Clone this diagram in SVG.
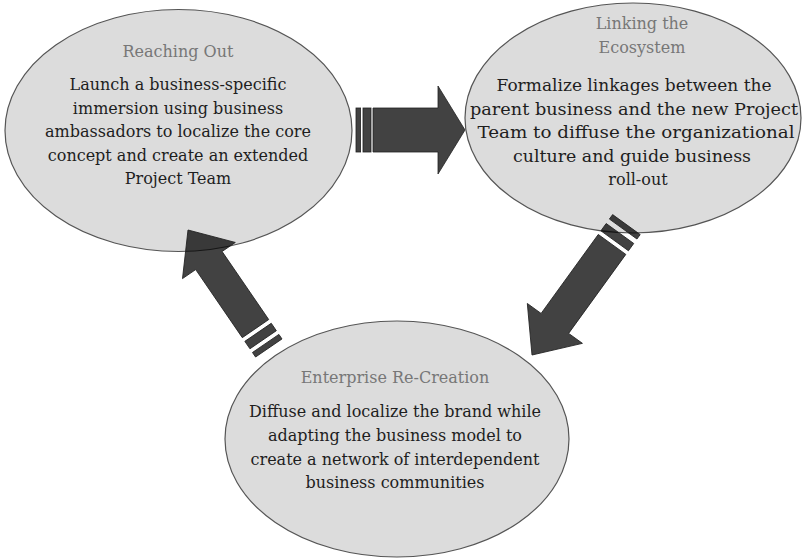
<svg xmlns="http://www.w3.org/2000/svg" width="802" height="560" viewBox="0 0 802 560">
  <style>
    .stage { fill: #dcdcdc; stroke: #555555; stroke-width: 1.2; }
    .title { font-family: "DejaVu Serif", "Liberation Serif", serif; font-size: 16px; fill: #777777; text-anchor: middle; }
    .body { font-family: "DejaVu Serif", "Liberation Serif", serif; font-size: 16px; fill: #1e1e1e; text-anchor: middle; }
    .arrow { fill: #000000; fill-opacity: 0.74; stroke: #222222; stroke-width: 0.8; }
  </style>
  <rect width="802" height="560" fill="#ffffff"/>

  <g id="reaching-out">
    <ellipse class="stage" cx="178.5" cy="130.5" rx="173.5" ry="121"/>
    <text class="title" x="178" y="57">Reaching Out</text>
    <text class="body" x="178" y="90">Launch a business-specific</text>
    <text class="body" x="178" y="113.5">immersion using business</text>
    <text class="body" x="178" y="137">ambassadors to localize the core</text>
    <text class="body" x="178" y="160.5">concept and create an extended</text>
    <text class="body" x="178" y="184">Project Team</text>
  </g>

  <g id="linking-ecosystem">
    <ellipse class="stage" cx="633" cy="118" rx="168" ry="115"/>
    <text class="title" x="642" y="29">Linking the</text>
    <text class="title" x="642" y="53">Ecosystem</text>
    <text class="body" x="634" y="91" textLength="275" lengthAdjust="spacingAndGlyphs">Formalize linkages between the</text>
    <text class="body" x="634" y="114.5" textLength="328" lengthAdjust="spacingAndGlyphs">parent business and the new Project</text>
    <text class="body" x="636" y="138" textLength="317" lengthAdjust="spacingAndGlyphs">Team to diffuse the organizational</text>
    <text class="body" x="632" y="161.5" textLength="238" lengthAdjust="spacingAndGlyphs">culture and guide business</text>
    <text class="body" x="638" y="185">roll-out</text>
  </g>

  <g id="enterprise-recreation">
    <ellipse class="stage" cx="397" cy="439" rx="172" ry="118"/>
    <text class="title" x="395" y="383">Enterprise Re-Creation</text>
    <text class="body" x="395" y="417">Diffuse and localize the brand while</text>
    <text class="body" x="395" y="441">adapting the business model to</text>
    <text class="body" x="395" y="464.5">create a network of interdependent</text>
    <text class="body" x="395" y="488">business communities</text>
  </g>

  <!-- striped block arrows, tip at local origin, body along -x -->
  <g id="connectors">
    <g transform="translate(465,130)">
      <path class="arrow" d="M0,0 L-27,44 L-27,22 L-92,22 L-92,-22 L-27,-22 L-27,-44 Z"/>
      <rect class="arrow" x="-102" y="-22" width="8" height="44"/>
      <rect class="arrow" x="-109" y="-22" width="4.6" height="44"/>
    </g>
    <g transform="translate(532,355) rotate(125.9)">
      <path class="arrow" d="M0,0 L-39,34 L-39,17 L-136.5,17 L-136.5,-17 L-39,-17 L-39,-34 Z"/>
      <rect class="arrow" x="-150" y="-17" width="9" height="34"/>
      <rect class="arrow" x="-161" y="-17" width="5.5" height="34"/>
    </g>
    <g transform="translate(188,230) rotate(-124.4)">
      <path class="arrow" d="M0,0 L-37,32 L-37,16 L-119.5,16 L-119.5,-16 L-37,-16 L-37,-32 Z"/>
      <rect class="arrow" x="-133" y="-16" width="9" height="32"/>
      <rect class="arrow" x="-143" y="-16" width="5.5" height="32"/>
    </g>
  </g>
</svg>
